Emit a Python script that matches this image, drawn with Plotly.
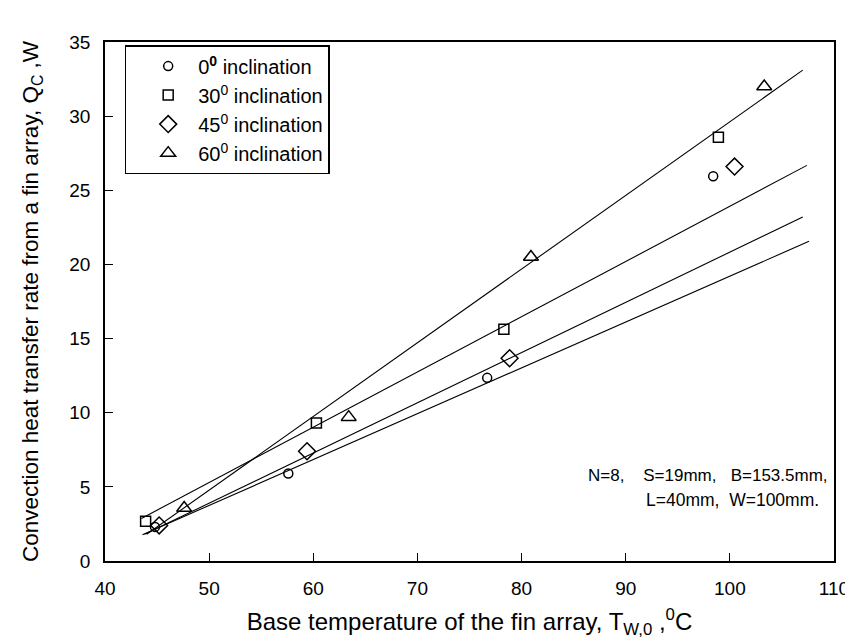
import plotly.graph_objects as go

# ---- data ----
series_names = ["0<sup><b>0</b></sup> inclination", "30<sup>0</sup> inclination",
                "45<sup>0</sup> inclination", "60<sup>0</sup> inclination"]
symbols = ["circle-open", "square-open", "diamond-open", "triangle-up-open"]
marker_sizes = [9, 10, 13, 13]

t0 = [44.8, 57.6, 76.7, 98.4]
q0 = [2.3, 5.9, 12.35, 25.95]
t30 = [43.9, 60.3, 78.3, 98.9]
q30 = [2.68, 9.3, 15.63, 28.58]
t45 = [45.2, 59.4, 78.85, 100.45]
q45 = [2.4, 7.4, 13.67, 26.6]
t60 = [47.6, 63.4, 80.9, 103.3]
q60 = [3.57, 9.7, 20.5, 32.0]

# fitted lines (end points)
fit0_t = [43.6, 107.6]
fit0_q = [1.77, 21.56]
fit30_t = [43.5, 107.4]
fit30_q = [2.87, 26.68]
fit45_t = [43.8, 107.0]
fit45_q = [1.8, 23.2]
fit60_t = [44.0, 107.0]
fit60_q = [1.8, 33.1]

x_ticks = [40, 50, 60, 70, 80, 90, 100, 110]
y_ticks = [0, 5, 10, 15, 20, 25, 30, 35]

FONT = "Liberation Sans, Arial, sans-serif"

fig = go.Figure()

for ft, fq in [(fit0_t, fit0_q), (fit30_t, fit30_q), (fit45_t, fit45_q), (fit60_t, fit60_q)]:
    fig.add_trace(go.Scatter(x=ft, y=fq, mode="lines", line=dict(color="black", width=1.1),
                             showlegend=False, hoverinfo="skip"))

for name, sym, ms, xs, ys in zip(series_names, symbols, marker_sizes,
                                 [t0, t30, t45, t60], [q0, q30, q45, q60]):
    fig.add_trace(go.Scatter(x=xs, y=ys, mode="markers", name=name,
                             marker=dict(symbol=sym, size=ms, color="black",
                                         line=dict(color="black", width=1.5))))

fig.add_annotation(x=0.995, y=0.165, xref="paper", yref="paper", xanchor="right", yanchor="middle",
                   text="N=8,\u00a0\u00a0\u00a0\u00a0S=19mm,\u00a0\u00a0\u00a0B=153.5mm,",
                   showarrow=False, font=dict(size=17, color="black", family=FONT))
fig.add_annotation(x=0.982, y=0.118, xref="paper", yref="paper", xanchor="right", yanchor="middle",
                   text="L=40mm,\u00a0\u00a0W=100mm.",
                   showarrow=False, font=dict(size=17.5, color="black", family=FONT))

axis_common = dict(showgrid=False, zeroline=False, showline=True, linecolor="black", linewidth=1.5,
                   mirror=True, ticks="inside", ticklen=8, tickwidth=1.2, tickcolor="black",
                   ticklabelstandoff=9,
                   tickfont=dict(size=19, color="black", family=FONT))

fig.update_xaxes(range=[40, 110], tickvals=x_ticks,
                 title=dict(text="Base temperature of the fin array, T<sub>W,0</sub> ,<sup>0</sup>C",
                            font=dict(size=24, color="black", family=FONT), standoff=16),
                 **axis_common)
fig.update_yaxes(range=[0, 35], tickvals=y_ticks,
                 title=dict(text="Convection heat transfer rate from a fin array, Q<sub>C</sub> ,W",
                            font=dict(size=22.5, color="black", family=FONT), standoff=24),
                 **axis_common)

fig.update_layout(
    width=853, height=644,
    margin=dict(l=97, r=20, t=34, b=91),
    plot_bgcolor="white", paper_bgcolor="white",
    font=dict(family=FONT, color="black"),
    legend=dict(x=0.027, y=0.994, xanchor="left", yanchor="top",
                bordercolor="black", borderwidth=1.5, bgcolor="white",
                font=dict(size=20, color="black", family=FONT),
                indentation=12, itemwidth=50, tracegroupgap=0),
)

fig.write_html("out.html")
